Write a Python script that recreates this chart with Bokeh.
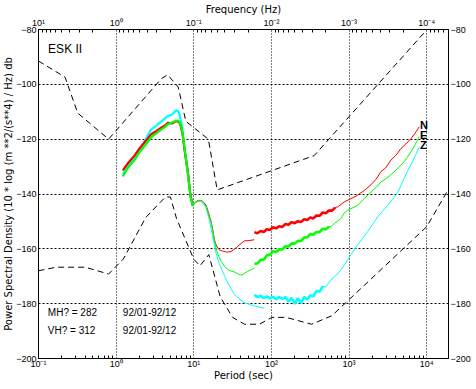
import numpy as np
from bokeh.plotting import figure
from bokeh.models import Range1d, LogScale, LogAxis, LinearAxis, FixedTicker, Label, CustomJSTickFormatter
from bokeh.embed import file_html
from bokeh.resources import INLINE

FONT = "Liberation Sans"
TITLE_FONT = "DejaVu Sans"

# ---- reference noise models (period s, dB) ----
nhnm_period = [0.10, 0.22, 0.32, 0.80, 3.80, 4.60, 6.30, 7.90, 15.40, 20.00, 354.80, 20000]
nhnm_db = [-91.5, -97.4, -110.5, -120.0, -98.0, -96.5, -101.0, -113.5, -120.0, -138.5, -126.0, -70.6]

nlnm_period = [0.10, 0.17, 0.40, 0.80, 1.24, 2.40, 4.30, 5.00, 6.00, 10.00, 12.00, 15.60, 21.90,
               31.60, 45.00, 70.00, 101.00, 154.00, 328.00, 600.00, 10000, 20000]
nlnm_db = [-168.0, -166.7, -166.7, -169.2, -163.7, -148.6, -141.1, -141.1, -149.0, -163.8, -166.2,
           -162.1, -177.5, -185.0, -187.5, -187.5, -185.0, -185.0, -187.5, -184.4, -151.9, -137.2]

# ---- station spectra: log10(period) and dB ----
short_lp = [0.086, 0.15, 0.236, 0.30, 0.364, 0.42, 0.450, 0.52, 0.579, 0.63, 0.665, 0.72, 0.772,
            0.80, 0.815, 0.84, 0.858, 0.879, 0.90, 0.923, 0.956, 0.987]
red_short_db = [-131.4, -128.8, -126.0, -123.4, -121.2, -119.3, -118.2, -117.0, -115.8, -115.0, -114.0,
                -114.3, -113.4, -113.6, -114.0, -116.0, -118.8, -123.6, -127.5, -132.0, -140.5, -144.1]
green_short_db = [-133.6, -130.5, -127.6, -124.8, -122.5, -120.5, -119.3, -117.8, -116.5, -115.5, -114.6,
                  -113.9, -113.3, -113.2, -113.8, -115.5, -118.5, -123.0, -127.5, -132.5, -140.8, -144.3]
cyan_short_db = [-132.8, -129.8, -126.8, -123.8, -121.0, -117.8, -116.5, -115.0, -113.6, -112.4, -111.6,
                 -111.0, -109.5, -109.8, -110.8, -114.0, -117.5, -123.0, -127.5, -131.8, -140.0, -144.5]

red_mid_lp = [0.987, 1.02, 1.051, 1.094, 1.12, 1.158, 1.18, 1.223, 1.245, 1.265, 1.287, 1.309, 1.34,
              1.373, 1.42, 1.480, 1.52, 1.566, 1.61, 1.651, 1.70, 1.780]
red_mid_db = [-144.1, -143.2, -142.6, -142.3, -142.8, -144.1, -146.0, -150.1, -153.1, -156.7, -158.5,
              -159.8, -160.6, -160.8, -161.2, -161.0, -160.2, -159.1, -158.0, -157.1, -157.0, -156.7]
green_mid_lp = [0.987, 1.02, 1.051, 1.094, 1.12, 1.158, 1.18, 1.223, 1.245, 1.265, 1.287, 1.309, 1.351,
                1.40, 1.438, 1.48, 1.523, 1.57, 1.609, 1.65, 1.695, 1.74, 1.780]
green_mid_db = [-144.3, -143.0, -142.5, -142.4, -143.0, -144.5, -146.5, -150.5, -153.5, -157.0, -159.8,
                -161.8, -164.6, -166.5, -167.6, -168.1, -168.4, -169.2, -169.6, -169.0, -168.2, -167.6, -167.0]
cyan_mid_lp = [0.987, 1.02, 1.051, 1.094, 1.12, 1.158, 1.201, 1.25, 1.287, 1.32, 1.351, 1.40, 1.438,
               1.48, 1.523, 1.58, 1.651, 1.72, 1.780, 1.85, 1.909]
cyan_mid_db = [-144.5, -143.0, -142.4, -142.6, -143.5, -145.0, -149.5, -156.5, -161.6, -164.8, -167.0,
               -170.2, -172.4, -174.6, -176.6, -178.2, -179.6, -180.3, -180.8, -181.3, -181.7]

red_long_lp = [1.78, 1.82, 1.86, 1.90, 1.94, 1.98, 2.02, 2.06, 2.10, 2.14, 2.18, 2.22, 2.26, 2.30, 2.34,
               2.38, 2.42, 2.46, 2.50, 2.54, 2.58, 2.62, 2.66, 2.70, 2.74, 2.78, 2.82, 2.853, 2.938, 3.024,
               3.10, 3.196, 3.282, 3.35, 3.41, 3.47, 3.539, 3.60, 3.668, 3.73, 3.797, 3.85, 3.903]
red_long_db = [-153.9, -154.3, -153.5, -153.85, -152.85, -153.1, -152.1, -152.55, -151.75, -152.0, -150.95,
               -151.2, -150.25, -150.65, -149.9, -150.25, -149.2, -149.45, -148.55, -148.9, -147.85, -147.95,
               -146.75, -147.0, -146.0, -146.05, -144.95, -144.7, -142.9, -141.7, -140.6, -138.7, -136.6,
               -134.5, -131.8, -130.5, -127.6, -126.0, -123.4, -121.8, -119.8, -117.8, -115.5]
green_long_lp = [1.78, 1.82, 1.86, 1.90, 1.94, 1.98, 2.02, 2.06, 2.10, 2.14, 2.18, 2.22, 2.26, 2.30, 2.34,
                 2.38, 2.42, 2.46, 2.50, 2.54, 2.58, 2.62, 2.66, 2.70, 2.74, 2.767, 2.82, 2.896, 2.94, 2.982,
                 3.05, 3.111, 3.20, 3.282, 3.35, 3.41, 3.47, 3.539, 3.62, 3.71, 3.797, 3.85, 3.903]
green_long_db = [-165.4, -165.3, -164.0, -163.95, -162.4, -162.1, -160.85, -161.15, -160.15, -160.2, -159.05,
                 -159.15, -158.0, -158.1, -157.1, -157.15, -155.9, -155.8, -154.6, -154.85, -153.85, -153.9,
                 -152.65, -152.9, -151.9, -151.9, -150.5, -148.9, -146.8, -145.9, -145.0, -144.1, -141.5,
                 -139.3, -137.5, -135.6, -134.5, -133.0, -130.8, -128.2, -124.6, -122.0, -119.1]
cyan_long_lp = [1.78, 1.82, 1.86, 1.90, 1.94, 1.98, 2.02, 2.06, 2.10, 2.14, 2.18, 2.22, 2.26, 2.30, 2.34,
                2.38, 2.42, 2.46, 2.50, 2.54, 2.58, 2.62, 2.66, 2.70, 2.767, 2.83, 2.896, 2.96, 3.024, 3.111,
                3.18, 3.239, 3.30, 3.368, 3.43, 3.497, 3.56, 3.625, 3.69, 3.754, 3.81, 3.861, 3.903]
cyan_long_db = [-176.8, -177.6, -177.1, -178.0, -177.3, -178.1, -177.5, -178.4, -177.6, -178.3, -177.6,
                -179.2, -177.9, -180.1, -178.0, -179.8, -177.6, -178.5, -177.0, -177.3, -175.3, -175.7,
                -173.7, -173.9, -171.2, -169.8, -167.6, -165.0, -162.1, -158.5, -156.0, -153.7, -151.2,
                -148.3, -146.3, -144.1, -142.0, -139.5, -135.5, -131.5, -128.5, -125.5, -122.8]

# number of leading points of each long-period series drawn as the thick, noisy band
noisy_count = {"red": 27, "green": 25, "cyan": 23}

y_ticks = [-200, -180, -160, -140, -120, -100, -80]
period_decades = [0.1, 1, 10, 100, 1000, 10000]
freq_decades = [10, 1, 0.1, 0.01, 0.001, 0.0001]

x_lo, x_hi = 0.1, 10 ** 4.28

p = figure(width=474, height=383, x_axis_type="log", x_range=Range1d(x_lo, x_hi),
           y_range=Range1d(-200, -80), output_backend="svg", toolbar_location=None,
           min_border_left=37, min_border_right=26, min_border_top=26, min_border_bottom=25)
p.outline_line_color = "black"
p.outline_line_width = 1
p.background_fill_color = "white"
p.border_fill_color = "white"

sup_fmt = CustomJSTickFormatter(code="""
const sup = {"-": "\u207b", "0": "\u2070", "1": "\u00b9", "2": "\u00b2", "3": "\u00b3", "4": "\u2074", "5": "\u2075"};
const e = Math.round(Math.log10(tick));
return "10" + String(e).split("").map(c => sup[c]).join("");
""")

minor_p = [m * 10 ** k for k in range(-1, 5) for m in range(2, 10) if m * 10 ** k < x_hi]
minor_f = [m * 10 ** k for k in range(-5, 1) for m in range(2, 10) if m * 10 ** k > 1 / x_hi]

def style_axis(ax, label=None, label_standoff=0):
    ax.axis_line_color = "black"
    ax.major_label_text_font = FONT
    ax.major_label_text_font_size = "9px"
    ax.major_label_text_color = "black"
    ax.major_tick_line_color = "black"
    ax.minor_tick_line_color = "black"
    ax.major_tick_in = 0
    ax.major_tick_out = 0
    if label is not None:
        ax.axis_label = label
        ax.axis_label_text_font = TITLE_FONT
        ax.axis_label_text_font_size = "10px"
        ax.axis_label_text_font_style = "normal"
        ax.axis_label_text_color = "black"
        ax.axis_label_standoff = label_standoff

xa = p.xaxis[0]
xa.ticker = FixedTicker(ticks=period_decades, minor_ticks=minor_p)
xa.formatter = sup_fmt
style_axis(xa, "Period (sec)", label_standoff=-2)
xa.minor_tick_in = 3
xa.minor_tick_out = 0
xa.major_label_standoff = 0

p.extra_x_ranges = {"freq": Range1d(1 / x_lo, 1 / x_hi)}
p.extra_x_scales = {"freq": LogScale()}
top = LogAxis(x_range_name="freq", ticker=FixedTicker(ticks=freq_decades, minor_ticks=minor_f),
              formatter=sup_fmt)
style_axis(top, "Frequency (Hz)", label_standoff=0)
top.minor_tick_in = 3
top.minor_tick_out = 0
top.major_label_standoff = 2
p.add_layout(top, "above")

ya = p.yaxis[0]
ya.ticker = FixedTicker(ticks=y_ticks)
style_axis(ya, "Power Spectral Density (10 * log (m **2/(s**4) / Hz) db", label_standoff=-1)
ya.minor_tick_line_color = None
ya.major_label_standoff = 2

yr = LinearAxis(ticker=FixedTicker(ticks=y_ticks))
style_axis(yr)
yr.minor_tick_line_color = None
yr.major_label_standoff = 2
p.add_layout(yr, "right")

p.xgrid.ticker = FixedTicker(ticks=period_decades)
p.xgrid.grid_line_color = "black"
p.xgrid.grid_line_dash = "1 2"
p.ygrid.ticker = FixedTicker(ticks=y_ticks)
p.ygrid.grid_line_color = "black"
p.ygrid.grid_line_dash = "2 2"

# noise models
p.line(nhnm_period, nhnm_db, line_color="black", line_dash="6 4", line_width=1)
p.line(nlnm_period, nlnm_db, line_color="black", line_dash="6 4", line_width=1)

def per(lp):
    return np.power(10.0, np.array(lp))

colors = {"cyan": "#00ffff", "red": "#ff0000", "green": "#00ff00"}
series = [
    ("cyan", cyan_short_db, cyan_mid_lp, cyan_mid_db, cyan_long_lp, cyan_long_db),
    ("red", red_short_db, red_mid_lp, red_mid_db, red_long_lp, red_long_db),
    ("green", green_short_db, green_mid_lp, green_mid_db, green_long_lp, green_long_db),
]
for name, sdb, mlp, mdb, llp, ldb in series:
    c = colors[name]
    n = noisy_count[name]
    p.line(per(short_lp), sdb, line_color=c, line_width=2.2)
    p.line(per(mlp), mdb, line_color=c, line_width=1)
    p.line(per(llp[:n]), ldb[:n], line_color=c, line_width=2.6)
    p.line(per(llp[n - 1:]), ldb[n - 1:], line_color=c, line_width=1)

def add_label(x, y, text, size="10px", style="normal"):
    p.add_layout(Label(x=x, y=y, text=text, text_font=FONT, text_font_size=size,
                       text_align="left", text_baseline="middle", text_font_style=style,
                       text_color="black"))

add_label(0.133, -87.2, "ESK  II", size="12px")
add_label(0.132, -183.3, "MH? = 282")
add_label(0.132, -189.9, "VH? = 312")
add_label(1.22, -183.3, "92/01-92/12")
add_label(1.22, -189.9, "92/01-92/12")
add_label(8170, -114.8, "N", size="11px", style="bold")
add_label(8170, -118.4, "E", size="11px", style="bold")
add_label(8170, -122.0, "Z", size="11px", style="bold")

open("out.html", "w").write(file_html(p, INLINE))
